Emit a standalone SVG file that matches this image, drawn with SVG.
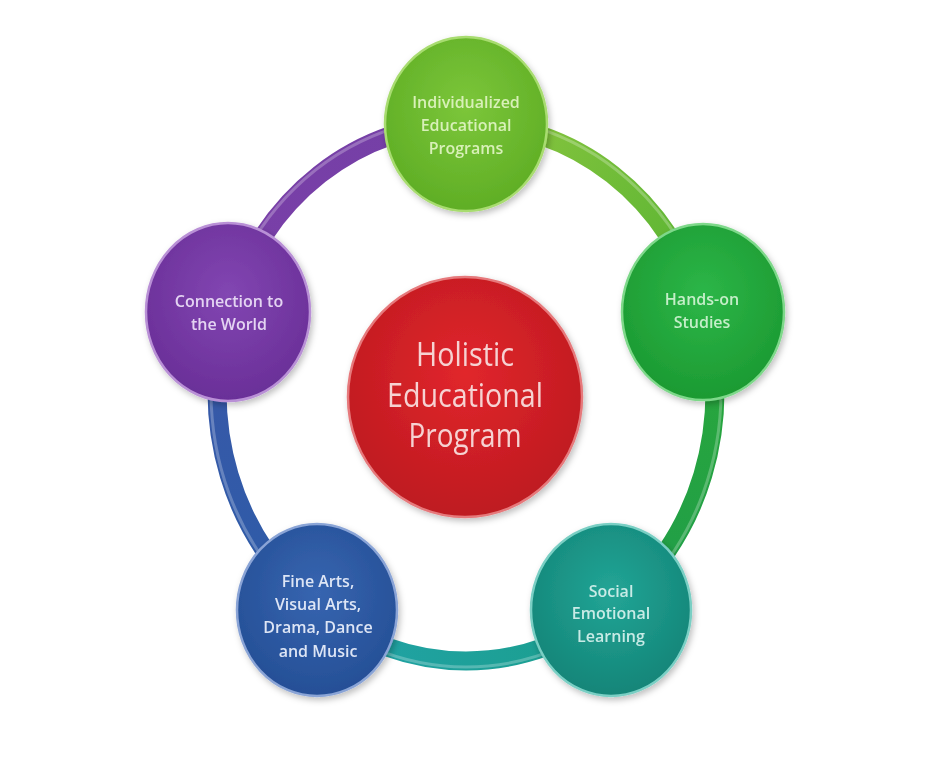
<svg xmlns="http://www.w3.org/2000/svg" width="934" height="760" viewBox="0 0 934 760">
  <defs>
    <filter id="sh" x="-20%" y="-20%" width="140%" height="140%">
      <feDropShadow dx="2" dy="3" stdDeviation="3" flood-color="#000" flood-opacity="0.25"/>
    </filter>
    <radialGradient id="gTop" cx="50%" cy="40%" r="60%">
      <stop offset="0" stop-color="#7cc63a"/><stop offset="1" stop-color="#5fae25"/>
    </radialGradient>
    <radialGradient id="gRight" cx="50%" cy="40%" r="60%">
      <stop offset="0" stop-color="#2cb648"/><stop offset="1" stop-color="#1c9a32"/>
    </radialGradient>
    <radialGradient id="gBR" cx="50%" cy="40%" r="60%">
      <stop offset="0" stop-color="#22a596"/><stop offset="1" stop-color="#148578"/>
    </radialGradient>
    <radialGradient id="gBL" cx="50%" cy="40%" r="60%">
      <stop offset="0" stop-color="#3765b0"/><stop offset="1" stop-color="#254f96"/>
    </radialGradient>
    <radialGradient id="gLeft" cx="50%" cy="40%" r="60%">
      <stop offset="0" stop-color="#8246b2"/><stop offset="1" stop-color="#6a2f98"/>
    </radialGradient>
    <radialGradient id="gCenter" cx="50%" cy="40%" r="60%">
      <stop offset="0" stop-color="#e1262c"/><stop offset="1" stop-color="#be1a20"/>
    </radialGradient>
    <linearGradient id="a1" gradientUnits="userSpaceOnUse" x1="466" y1="123" x2="703" y2="309">
      <stop offset="0" stop-color="#8cc63f"/><stop offset="1" stop-color="#55b332"/>
    </linearGradient>
    <linearGradient id="a2" gradientUnits="userSpaceOnUse" x1="703" y1="309" x2="612" y2="610">
      <stop offset="0" stop-color="#2aa83a"/><stop offset="1" stop-color="#1f9d4a"/>
    </linearGradient>
    <linearGradient id="a3" gradientUnits="userSpaceOnUse" x1="612" y1="610" x2="320" y2="610">
      <stop offset="0" stop-color="#1a9e8c"/><stop offset="1" stop-color="#22a3a8"/>
    </linearGradient>
    <linearGradient id="a4" gradientUnits="userSpaceOnUse" x1="320" y1="610" x2="229" y2="309">
      <stop offset="0" stop-color="#2c5ca8"/><stop offset="1" stop-color="#3a58a8"/>
    </linearGradient>
    <linearGradient id="a5" gradientUnits="userSpaceOnUse" x1="229" y1="309" x2="466" y2="123">
      <stop offset="0" stop-color="#7a3fa8"/><stop offset="1" stop-color="#7440a6"/>
    </linearGradient>
  </defs>
  <style>
    .arc { fill: none; stroke-width: 19; }
    .node { stroke-width: 2.5; }
    .t { font-family: "Open Sans", "Liberation Sans", sans-serif; font-size: 16px; font-weight: 600; text-anchor: middle; }
    .tc { font-family: "Open Sans", "Liberation Sans", sans-serif; font-size: 32px; text-anchor: middle; fill: #f6d2d2; }
  </style>
  <rect width="934" height="760" fill="#ffffff"/>

  <g id="connectors">
    <path class="arc" stroke="url(#a1)" d="M 466 123 A 249 269 0 0 1 702.8 308.9"/>
    <path class="arc" stroke="url(#a2)" d="M 702.8 308.9 A 249 269 0 0 1 612.4 609.6"/>
    <path class="arc" stroke="url(#a3)" d="M 612.4 609.6 A 249 269 0 0 1 319.6 609.6"/>
    <path class="arc" stroke="url(#a4)" d="M 319.6 609.6 A 249 269 0 0 1 229.2 308.9"/>
    <path class="arc" stroke="url(#a5)" d="M 229.2 308.9 A 249 269 0 0 1 466 123"/>
    <ellipse cx="466" cy="392" rx="255" ry="275" fill="none" stroke="#ffffff" stroke-opacity="0.25" stroke-width="3"/>
  </g>

  <g id="center" filter="url(#sh)">
    <ellipse class="node" cx="465" cy="397" rx="117" ry="120" fill="url(#gCenter)" stroke="#e6797b"/>
    <text class="tc" x="465" y="366" textLength="98" lengthAdjust="spacingAndGlyphs">Holistic</text>
    <text class="tc" x="465" y="407" textLength="156" lengthAdjust="spacingAndGlyphs">Educational</text>
    <text class="tc" x="465" y="447" textLength="113" lengthAdjust="spacingAndGlyphs">Program</text>
  </g>

  <g id="individualized" filter="url(#sh)">
    <ellipse class="node" cx="466" cy="124" rx="81" ry="87" fill="url(#gTop)" stroke="#a8dc70"/>
    <text class="t" x="466" y="108" fill="#d8f0b8">Individualized</text>
    <text class="t" x="466" y="131" fill="#d8f0b8">Educational</text>
    <text class="t" x="466" y="154" fill="#d8f0b8">Programs</text>
  </g>

  <g id="hands-on" filter="url(#sh)">
    <ellipse class="node" cx="703" cy="312" rx="81" ry="88" fill="url(#gRight)" stroke="#7ed88a"/>
    <text class="t" x="702" y="305" fill="#c4eec8">Hands-on</text>
    <text class="t" x="702" y="328" fill="#c4eec8">Studies</text>
  </g>

  <g id="social" filter="url(#sh)">
    <ellipse class="node" cx="611" cy="610" rx="80" ry="86" fill="url(#gBR)" stroke="#7acfc4"/>
    <text class="t" x="611" y="597" fill="#c8ebe6">Social</text>
    <text class="t" x="611" y="619" fill="#c8ebe6">Emotional</text>
    <text class="t" x="611" y="642" fill="#c8ebe6">Learning</text>
  </g>

  <g id="fine-arts" filter="url(#sh)">
    <ellipse class="node" cx="317" cy="610" rx="80" ry="86" fill="url(#gBL)" stroke="#8aa4d6"/>
    <text class="t" x="318" y="587" fill="#dde5f5">Fine Arts,</text>
    <text class="t" x="318" y="610" fill="#dde5f5">Visual Arts,</text>
    <text class="t" x="318" y="633" fill="#dde5f5">Drama, Dance</text>
    <text class="t" x="318" y="657" fill="#dde5f5">and Music</text>
  </g>

  <g id="connection" filter="url(#sh)">
    <ellipse class="node" cx="228" cy="312" rx="82" ry="89" fill="url(#gLeft)" stroke="#b990d6"/>
    <text class="t" x="229" y="307" fill="#e4d4f2">Connection to</text>
    <text class="t" x="229" y="330" fill="#e4d4f2">the World</text>
  </g>
</svg>
